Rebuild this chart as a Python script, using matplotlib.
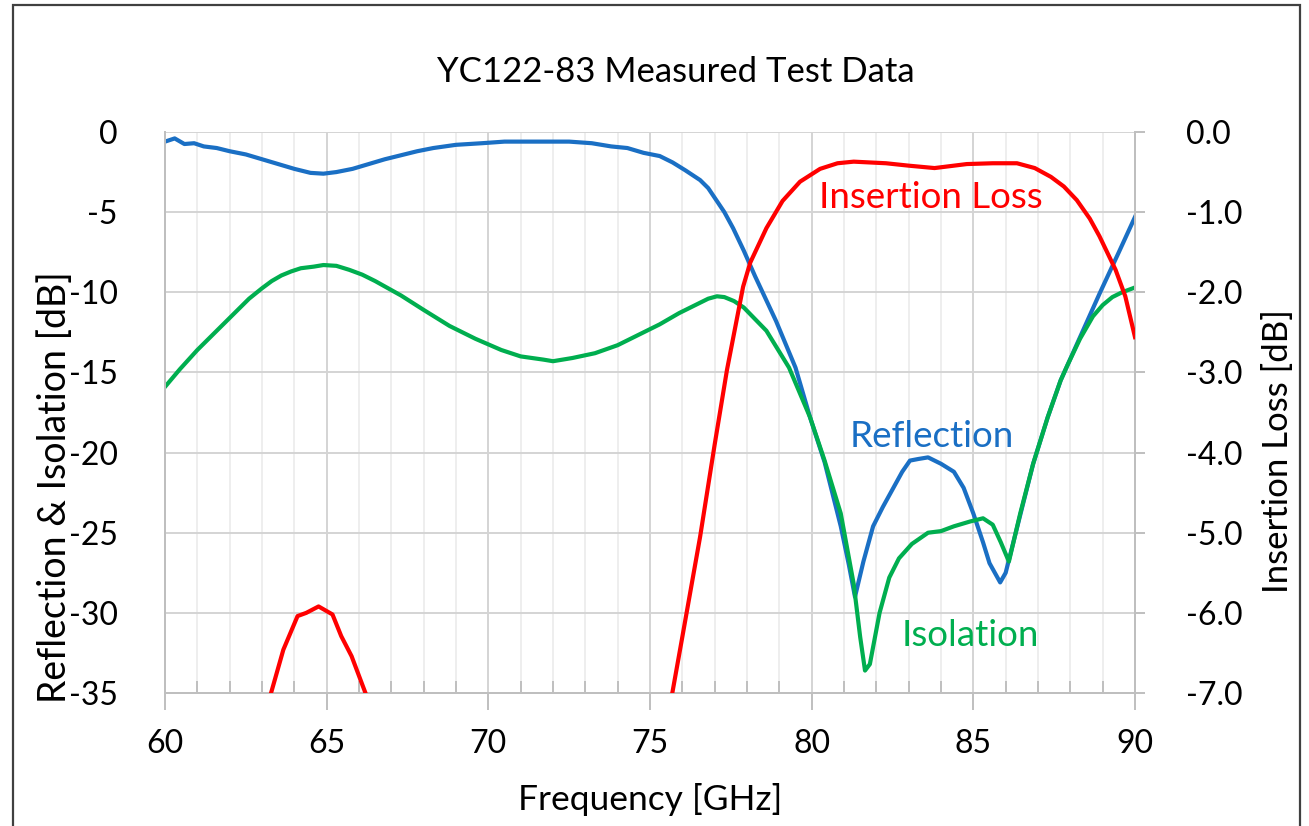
import matplotlib
matplotlib.use("Agg")
import matplotlib.pyplot as plt
from matplotlib.ticker import MultipleLocator
from matplotlib.patches import Rectangle

# ---------------- data ----------------
refl_f = [60.0, 60.3, 60.6, 60.9, 61.2, 61.6, 62.0, 62.5, 63.0, 63.5, 64.0, 64.5, 64.9,
          65.3, 65.8, 66.3, 66.8, 67.3, 67.8, 68.3, 69.0, 69.8, 70.5, 71.5, 72.5, 73.2,
          73.8, 74.3, 74.8, 75.3, 75.7, 76.1, 76.55, 76.8, 77.0, 77.3, 77.57, 77.9, 78.25,
          78.9, 79.5, 79.95, 80.4, 80.9, 81.15, 81.34, 81.6, 81.9, 82.2, 82.5, 82.8, 83.04,
          83.3, 83.6, 84.0, 84.4, 84.7, 85.0, 85.3, 85.5, 85.83, 86.0, 86.2, 86.5, 86.85,
          87.3, 87.7, 88.3, 88.9, 89.5, 90.0]
refl_db = [-0.6, -0.4, -0.75, -0.7, -0.9, -1.0, -1.2, -1.4, -1.7, -2.0, -2.3, -2.55, -2.6,
           -2.5, -2.3, -2.0, -1.7, -1.45, -1.2, -1.0, -0.8, -0.7, -0.6, -0.6, -0.6, -0.7,
           -0.9, -1.0, -1.3, -1.5, -1.9, -2.4, -3.0, -3.5, -4.1, -5.0, -6.0, -7.4, -9.0,
           -11.8, -14.7, -17.8, -20.6, -24.6, -27.0, -29.0, -26.8, -24.6, -23.4, -22.3, -21.2, -20.5,
           -20.4, -20.3, -20.7, -21.2, -22.2, -23.8, -25.6, -26.9, -28.1, -27.5, -25.9, -23.5, -20.7,
           -17.8, -15.5, -12.8, -10.1, -7.5, -5.3]

iso_f = [60.0, 60.46, 61.0, 61.6, 62.3, 62.6, 63.0, 63.3, 63.6, 63.9, 64.2, 64.6, 64.9, 65.3,
         65.7, 66.1, 66.5, 67.3, 68.0, 68.8, 69.6, 70.4, 71.0, 71.7, 72.0, 72.6, 73.3, 74.0,
         74.7, 75.3, 75.9, 76.5, 76.8, 77.07, 77.3, 77.6, 77.9, 78.6, 79.3, 79.95, 80.4, 80.9,
         81.3, 81.5, 81.65, 81.8, 82.1, 82.4, 82.7, 83.1, 83.6, 84.0, 84.4, 84.9, 85.3, 85.6,
         85.85, 86.1, 86.45, 86.85, 87.3, 87.7, 87.9, 88.3, 88.7, 89.0, 89.3, 89.6, 90.0]
iso_db = [-15.9, -14.8, -13.6, -12.4, -11.0, -10.4, -9.75, -9.3, -8.95, -8.7, -8.5, -8.4, -8.3, -8.35,
          -8.6, -8.9, -9.3, -10.2, -11.1, -12.1, -12.9, -13.6, -14.0, -14.2, -14.3, -14.1, -13.8, -13.3,
          -12.6, -12.0, -11.3, -10.7, -10.4, -10.25, -10.3, -10.55, -10.95, -12.4, -14.7, -17.8, -20.5, -23.8,
          -28.2, -31.5, -33.6, -33.2, -30.0, -27.8, -26.6, -25.7, -25.0, -24.9, -24.6, -24.3, -24.1, -24.5,
          -25.6, -26.8, -23.8, -20.7, -17.8, -15.5, -14.6, -12.9, -11.5, -10.8, -10.3, -10.0, -9.7]

il_f = [63.0, 63.28, 63.66, 64.1, 64.37, 64.75, 65.18, 65.45, 65.77, 66.2, 66.6, 68.0, 70.0,
        72.0, 74.0, 75.3, 75.69, 76.0, 76.55, 77.0, 77.38, 77.88, 78.1, 78.6, 79.1, 79.64,
        80.26, 80.8, 81.3, 82.3, 83.0, 83.8, 84.8, 85.6, 86.35, 86.9, 87.4, 87.8, 88.2,
        88.6, 88.9, 89.4, 89.7, 90.0]
il_db = [-7.4, -7.0, -6.46, -6.04, -6.0, -5.92, -6.02, -6.29, -6.54, -7.0, -7.5, -9.0, -10.5,
         -10.5, -9.0, -7.6, -7.0, -6.3, -5.05, -3.9, -2.97, -1.93, -1.63, -1.2, -0.86, -0.62,
         -0.46, -0.39, -0.37, -0.39, -0.42, -0.45, -0.40, -0.39, -0.39, -0.45, -0.56, -0.68, -0.85,
         -1.08, -1.3, -1.72, -2.05, -2.56]

x_ticks = [60, 65, 70, 75, 80, 85, 90]
left_ticks = [0, -5, -10, -15, -20, -25, -30, -35]
right_ticks = [0.0, -1.0, -2.0, -3.0, -4.0, -5.0, -6.0, -7.0]

BLUE = "#1A6FC4"
GREEN = "#00AE4F"
RED = "#FF0000"
FONT = "Lato"

W, H = 1309, 826
fig = plt.figure(figsize=(W / 100, H / 100), dpi=100)
plt.rcParams["font.family"] = FONT

ax = fig.add_axes([165 / W, 1 - 693 / H, 970 / W, 561 / H])
ax2 = ax.twinx()

ax.set_xlim(60, 90)
ax.set_ylim(-35, 0)
ax2.set_ylim(-7, 0)

ax.xaxis.set_minor_locator(MultipleLocator(1))
ax.set_xticks(x_ticks)
ax.set_yticks(left_ticks)
ax.set_yticklabels([f"{v:d}" for v in left_ticks])
ax2.set_yticks(right_ticks)
ax2.set_yticklabels([f"{v:.1f}" for v in right_ticks])
ax.grid(True, which="minor", axis="x", color="#EBEBEB", lw=1.2)
ax.grid(True, which="major", axis="x", color="#D4D4D4", lw=1.4)
ax.grid(True, which="major", axis="y", color="#D4D4D4", lw=1.4)
ax.set_axisbelow(True)

for a in (ax, ax2):
    a.spines["top"].set_visible(False)
    for s in ["left", "bottom", "right"]:
        a.spines[s].set_color("#BFBFBF")
        a.spines[s].set_linewidth(1.4)

ax.tick_params(axis="x", which="major", direction="out", length=12, width=1.4,
               color="#BFBFBF", labelsize=23, pad=14)
ax.tick_params(axis="x", which="minor", direction="in", length=9, width=1.4, color="#BFBFBF")
ax.tick_params(axis="y", which="major", length=0, labelsize=23, pad=34)
ax2.tick_params(axis="y", which="major", direction="out", length=7, width=1.4,
                color="#BFBFBF", labelsize=23, pad=30)

ax.plot(refl_f, refl_db, color=BLUE, lw=3.0, zorder=3, solid_joinstyle="round")
ax.plot(iso_f, iso_db, color=GREEN, lw=3.0, zorder=3, solid_joinstyle="round")
ax2.plot(il_f, il_db, color=RED, lw=3.0, zorder=4, solid_joinstyle="round")

ax.text(83.7, -4.1, "Insertion Loss", color=RED, fontsize=26.5, ha="center", va="center")
ax.text(83.7, -19.0, "Reflection", color=BLUE, fontsize=26.5, ha="center", va="center")
ax.text(84.9, -31.4, "Isolation", color=GREEN, fontsize=26.5, ha="center", va="center")

fig.text(676 / W, 1 - 72 / H, "YC122-83 Measured Test Data", fontsize=25, ha="center", va="center")
fig.text(650 / W, 1 - 800 / H, "Frequency [GHz]", fontsize=25.5, ha="center", va="center")
fig.text(55 / W, 1 - 487 / H, "Reflection & Isolation [dB]", fontsize=27, rotation=90,
         ha="center", va="center")
fig.text(1278 / W, 1 - 451 / H, "Insertion Loss [dB]", fontsize=25, rotation=90,
         ha="center", va="center")

fig.patches.append(Rectangle((13 / W, -0.01), (1300 - 13) / W, 1 - 5 / H + 0.01,
                             transform=fig.transFigure, fill=False, edgecolor="#404040",
                             lw=1.6))

fig.savefig("out.png", dpi=100)
